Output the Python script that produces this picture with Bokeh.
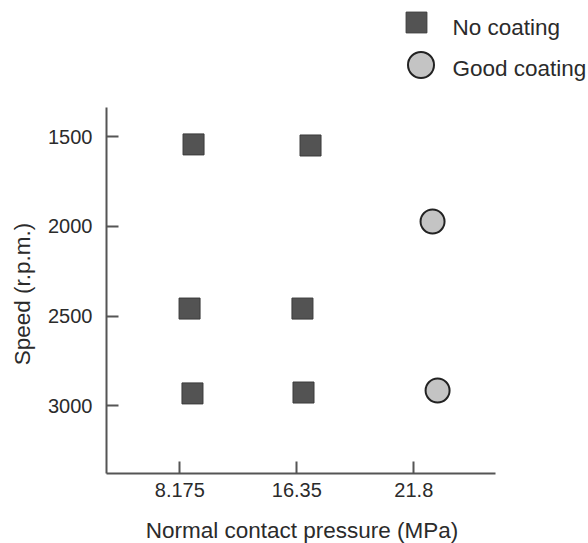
import math
from bokeh.plotting import figure
from bokeh.models import Range1d, FixedTicker, Legend, LegendItem, Label
from bokeh.embed import file_html
from bokeh.resources import INLINE

# ---- data ----
pressure_labels = ["8.175", "16.35", "21.8"]
pressure_index = [1, 2, 3]
speed_ticks = [1500, 2000, 2500, 3000]

# positions (category index incl. visual offset, speed in r.p.m.)
no_coating_x = [1.117, 2.117, 1.083, 2.048, 1.108, 2.057]
no_coating_speed = [1543, 1549, 2458, 2458, 2931, 2926]
good_coating_x = [3.160, 3.203]
good_coating_speed = [1973, 2915]

series_names = ["No coating", "Good coating"]
x_label = "Normal contact pressure (MPa)"
y_label = "Speed (r.p.m.)"

FONT = "Liberation Sans"
TXT = "#2b2b2b"
AX = "#555555"
LAB = "22.5px"

W, H = 588, 543
p = figure(width=W, height=H, output_backend="svg", toolbar_location=None,
           x_range=Range1d(-0.533, 4.493), y_range=Range1d(3767.6, 740.8),
           min_border=0)
p.outline_line_color = None
p.xgrid.visible = False
p.ygrid.visible = False
p.background_fill_color = "white"
p.border_fill_color = "white"

sq = p.scatter(no_coating_x, no_coating_speed, marker="square", size=21,
               fill_color="#535353", line_color="#3a3a3a", line_width=1)
ci = p.scatter(good_coating_x, good_coating_speed, marker="circle", size=24,
               fill_color="#c4c4c4", line_color="#222222", line_width=2)

for ax in (p.xaxis[0], p.yaxis[0]):
    ax.axis_line_color = AX
    ax.axis_line_width = 2
    ax.major_tick_line_color = AX
    ax.major_tick_line_width = 2
    ax.major_tick_in = 12
    ax.major_tick_out = 0
    ax.minor_tick_line_color = None
    ax.major_label_text_font = FONT
    ax.major_label_text_font_size = "20px"
    ax.major_label_text_color = TXT

p.xaxis.fixed_location = 3377
p.xaxis.bounds = (0.373, 3.698)
p.xaxis.ticker = FixedTicker(ticks=pressure_index)
p.xaxis.major_label_overrides = {i: lab for i, lab in zip(pressure_index, pressure_labels)}
p.xaxis.major_label_standoff = 10

p.yaxis.fixed_location = 0.373
p.yaxis.bounds = (1337, 3377)
p.yaxis.ticker = FixedTicker(ticks=speed_ticks)
p.yaxis.major_label_standoff = 14

def screen_label(text, x, y_from_top, angle=0.0, align="center"):
    return Label(x=x, y=H - y_from_top, x_units="screen", y_units="screen",
                 text=text, angle=angle, text_align=align, text_baseline="middle",
                 text_font=FONT, text_font_size=LAB, text_color=TXT)

# axis titles
p.add_layout(screen_label(x_label, 301.5, 529.5))
p.add_layout(screen_label(y_label, 21.5, 293.5, angle=math.pi / 2))

# legend: glyphs through Legend, texts as labels beside them
leg1 = Legend(items=[LegendItem(label="", renderers=[sq])],
              location=(390, 495.5), glyph_width=52, glyph_height=52,
              label_standoff=0, label_width=0, padding=0, margin=0, spacing=0,
              border_line_color=None, background_fill_alpha=0)
leg2 = Legend(items=[LegendItem(label="", renderers=[ci])],
              location=(387.5, 446.5), glyph_width=65, glyph_height=65,
              label_standoff=0, label_width=0, padding=0, margin=0, spacing=0,
              border_line_color=None, background_fill_alpha=0)
p.add_layout(leg1, "center")
p.add_layout(leg2, "center")
p.add_layout(screen_label(series_names[0], 452, 27, align="left"))
p.add_layout(screen_label(series_names[1], 452, 67.5, align="left"))

open("out.html", "w").write(file_html(p, INLINE))
